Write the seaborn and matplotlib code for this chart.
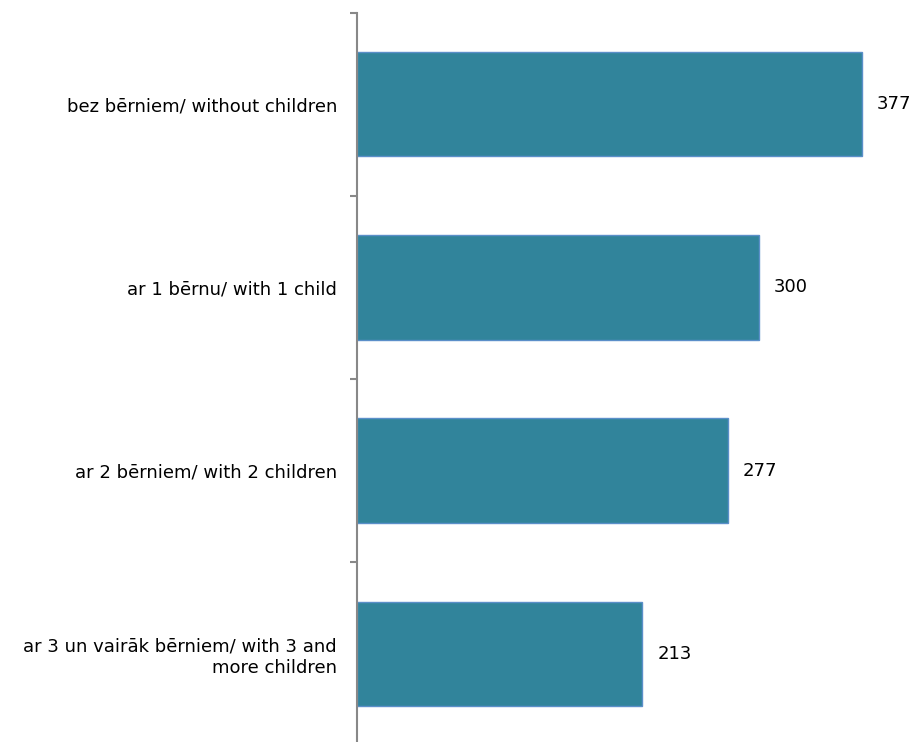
import pandas as pd
import seaborn as sns
import matplotlib.pyplot as plt
from matplotlib.ticker import FixedLocator

categories = [
    "bez bērniem/ without children",
    "ar 1 bērnu/ with 1 child",
    "ar 2 bērniem/ with 2 children",
    "ar 3 un vairāk bērniem/ with 3 and\nmore children",
]
values = [377, 300, 277, 213]

df = pd.DataFrame({"group": categories, "value": values})

sns.set_style("white")
plt.rcParams["font.family"] = ["DejaVu Sans"]

fig = plt.figure(figsize=(9.15, 7.42), dpi=100)
ax = fig.add_axes([356.5 / 915, -3.5 / 742, 536 / 915, 733 / 742])

sns.barplot(data=df, y="group", x="value", orient="h", color="#31849B",
            saturation=1, width=0.57, edgecolor="#5B8FC9", linewidth=1, ax=ax)

ax.set_xlim(0, 400)
ax.set_ylim(3.5, -0.5)
ax.set_xlabel("")
ax.set_ylabel("")
ax.set_xticks([])

# category labels at bar centres, tick marks between categories
ax.yaxis.set_major_locator(FixedLocator([-0.5, 0.5, 1.5, 2.5, 3.5]))
ax.yaxis.set_minor_locator(FixedLocator(range(len(categories))))
ax.set_yticklabels([], minor=False)
ax.set_yticklabels(categories, minor=True, fontsize=13, color="#000000", linespacing=1.25)
ax.tick_params(axis="y", which="major", left=True, length=5, width=1.5, color="#888888", direction="out")
ax.tick_params(axis="y", which="minor", length=0, pad=14)

for s in ["top", "right", "bottom"]:
    ax.spines[s].set_visible(False)
ax.spines["left"].set_color("#888888")
ax.spines["left"].set_linewidth(1.5)

ax.bar_label(ax.containers[0], labels=[str(v) for v in values], padding=11,
             fontsize=13, color="#000000")

fig.savefig("out.png", dpi=100)
